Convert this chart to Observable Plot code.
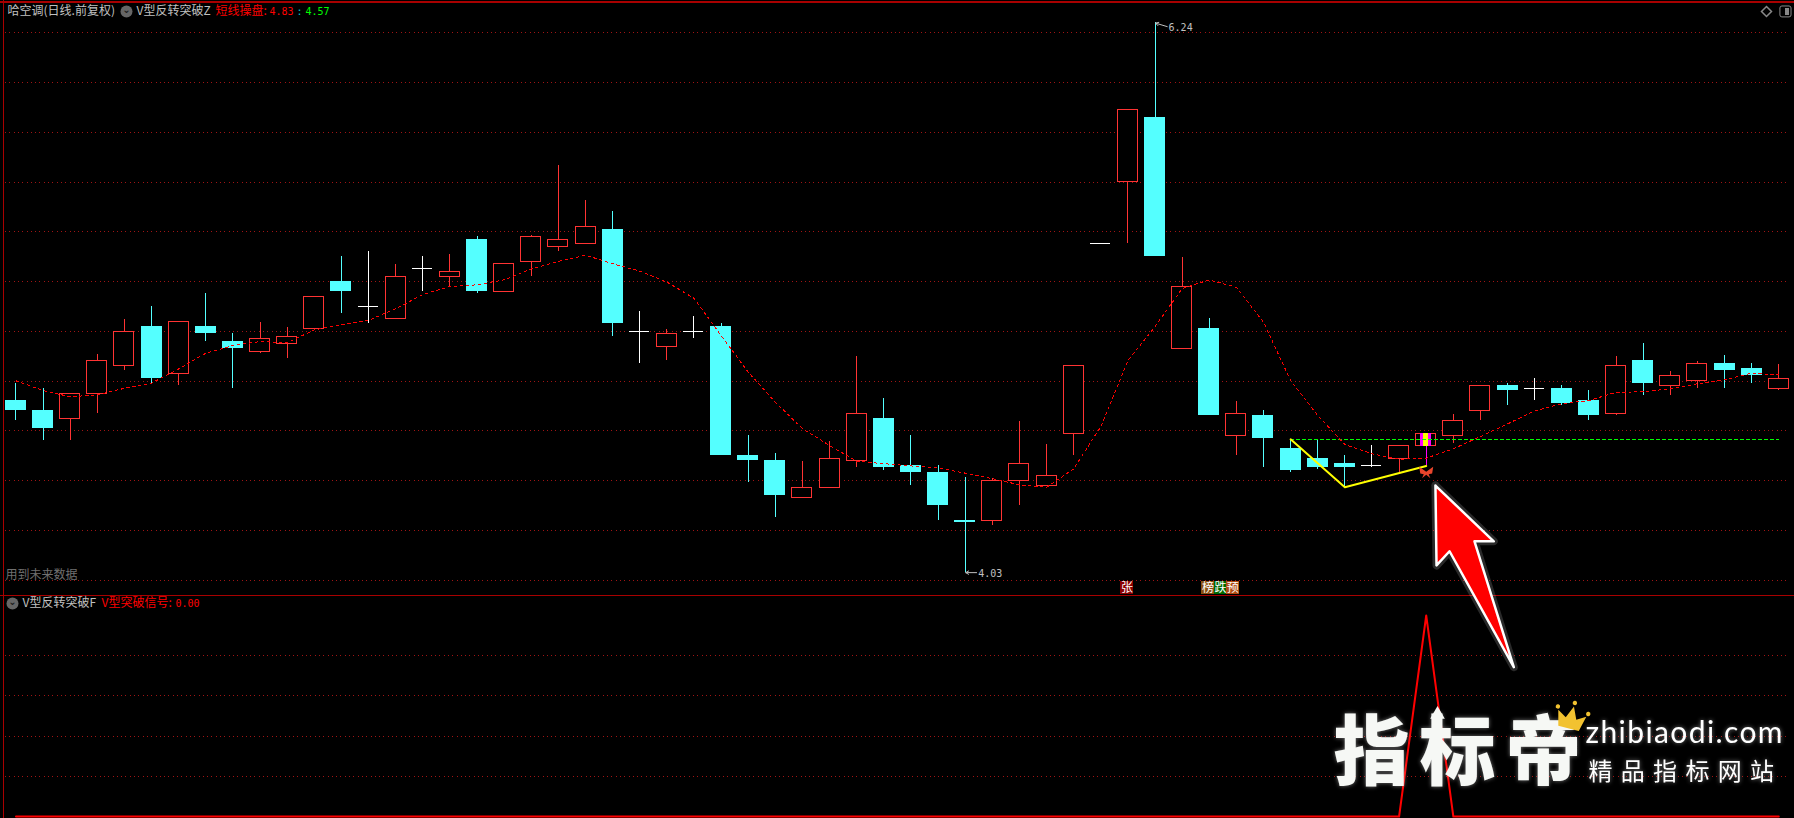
<!DOCTYPE html>
<html>
<head>
<meta charset="utf-8">
<script src="https://cdn.jsdelivr.net/npm/d3@7"></script>
<script src="https://cdn.jsdelivr.net/npm/@observablehq/plot@0.6"></script>
<style>
html,body{margin:0;padding:0;background:#000;overflow:hidden;width:1794px;height:818px}
#chart svg{display:block}
</style>
</head>
<body>
<div id="chart"></div>
<script>
// ---- Daily bars (price) ----
const opens  = [4.722,4.682,4.647,4.747,4.860,5.019,4.828,5.019,4.959,4.916,4.948,5.010,5.200,5.099,5.050,5.251,5.218,5.369,5.157,5.278,5.338,5.350,5.409,4.998,4.936,4.998,5.019,4.501,4.481,4.329,4.369,4.478,4.650,4.461,4.433,4.240,4.237,4.398,4.377,4.587,5.352,5.600,5.860,4.930,5.011,4.578,4.662,4.529,4.489,4.469,4.459,4.486,4.538,4.578,4.679,4.782,4.769,4.770,4.722,4.667,4.883,4.779,4.800,4.871,4.851,4.767];
const closes = [4.683,4.611,4.749,4.882,4.998,4.810,5.038,4.993,4.931,4.970,4.978,5.139,5.160,5.099,5.219,5.251,5.239,5.160,5.272,5.380,5.368,5.420,5.032,4.998,4.990,4.998,4.501,4.481,4.340,4.371,4.488,4.669,4.453,4.433,4.300,4.233,4.399,4.468,4.419,4.861,5.352,5.891,5.301,5.179,4.663,4.669,4.570,4.441,4.454,4.454,4.459,4.540,4.588,4.640,4.781,4.762,4.769,4.710,4.662,4.861,4.790,4.821,4.870,4.843,4.823,4.809];
const highs  = [4.790,4.770,4.749,4.907,5.048,5.100,5.038,5.152,4.991,5.036,5.014,5.139,5.301,5.321,5.269,5.301,5.309,5.381,5.272,5.385,5.667,5.526,5.482,5.080,5.007,5.060,5.032,4.581,4.509,4.477,4.557,4.899,4.730,4.581,4.461,4.412,4.408,4.638,4.545,4.861,5.352,5.891,6.240,5.297,5.052,4.718,4.682,4.566,4.565,4.501,4.541,4.540,4.588,4.666,4.781,4.790,4.810,4.782,4.762,4.899,4.951,4.839,4.879,4.903,4.871,4.867];
const lows   = [4.643,4.562,4.562,4.671,4.844,4.792,4.782,4.960,4.771,4.911,4.892,5.010,5.072,5.033,5.050,5.160,5.180,5.153,5.157,5.222,5.321,5.350,4.979,4.871,4.883,4.971,4.501,4.392,4.252,4.329,4.369,4.453,4.441,4.380,4.240,4.030,4.220,4.300,4.377,4.501,5.352,5.354,5.301,4.930,4.663,4.501,4.454,4.434,4.443,4.373,4.454,4.434,4.459,4.550,4.643,4.702,4.722,4.703,4.642,4.662,4.742,4.742,4.770,4.770,4.790,4.762];
// 短线操盘 average line
const shortLine = [4.801,4.762,4.737,4.745,4.771,4.792,4.849,4.912,4.943,4.959,4.954,5.006,5.026,5.044,5.091,5.148,5.180,5.187,5.207,5.251,5.281,5.306,5.272,5.242,5.198,5.133,4.983,4.836,4.715,4.609,4.541,4.478,4.468,4.459,4.451,4.430,4.408,4.383,4.373,4.447,4.617,4.883,5.019,5.172,5.207,5.177,5.037,4.802,4.662,4.545,4.508,4.486,4.490,4.528,4.577,4.628,4.680,4.709,4.722,4.755,4.757,4.769,4.789,4.805,4.832,4.825];
// V型突破信号 (lower panel)
const signal = [0,0,0,0,0,0,0,0,0,0,0,0,0,0,0,0,0,0,0,0,0,0,0,0,0,0,0,0,0,0,0,0,0,0,0,0,0,0,0,0,0,0,0,0,0,0,0,0,0,0,0,0,1,0,0,0,0,0,0,0,0,0,0,0,0,0];
// Grid ticks
const priceTicks = [6.2,6.0,5.8,5.6,5.4,5.2,5.0,4.8,4.6,4.4,4.2,4.0];
const signalTicks = [0.2,0.4,0.6,0.8];
// V pattern: bar index / price
const vBars = [47,49,52];
const vPrices = [4.566,4.373,4.459];
const breakoutBars = [47,65];
const breakoutPrices = [4.566,4.566];
const signalBar = 52;
// Big annotation arrow, in bar index / price
const arrowBars = [52.34,54.49,53.78,55.23,52.86,52.38,52.34];
const arrowPrices = [4.380,4.156,4.156,3.650,4.116,4.059,4.380];
// Tags under the bars
const tagTexts = ["张","榜","跌","预"];
const tagBars = [40.97,43.95,44.41,44.87];
const tagColors = ["#8b0000","#8b4f10","#006a00","#b04a10"];

const bars = opens.map((o,i)=>({i,o,c:closes[i],h:highs[i],l:lows[i],m:shortLine[i],s:signal[i]}));
const up = bars.filter(d=>d.c>d.o), down = bars.filter(d=>d.c<d.o), flat = bars.filter(d=>d.c===d.o);
const tags = tagTexts.map((t,k)=>({t,b:tagBars[k],f:tagColors[k]}));
const pts = (xs,ys)=>xs.map((x,k)=>({x,y:ys[k]}));

const W=1794, H1=595, H2=223;
const xDomain=[-0.5715,65.58];
const yDomain=[3.9381,6.33];
const sDomain=[-0.00995,1.0995];
const CJK='"Noto Sans CJK SC","Noto Sans",sans-serif', MONO='"DejaVu Sans Mono",monospace';
const GREY="#c0c0c0", RED="#ff3333", CYAN="#54ffff", BORDER="#a80000", DOT="#a01414";
const step=27.12, hwUp=10/step, hwDown=10.5/step, hwFlat=10/step;

const label=(text,x,y,fill,font=CJK,size=12,extra={})=>Plot.text([text],{frameAnchor:"top-left",dx:x,dy:y,lineAnchor:"middle",textAnchor:"start",fill,fontFamily:font,fontSize:size,...extra});
const icon=(x,y)=>[
  Plot.dot([0],{frameAnchor:"top-left",dx:x,dy:y,r:6,fill:"#666",stroke:"none"}),
  Plot.text(["⌄"],{frameAnchor:"top-left",dx:x,dy:y-2,lineAnchor:"middle",textAnchor:"middle",fill:"#1c1c1c",fontFamily:'"DejaVu Sans"',fontSize:10,fontWeight:"bold"})
];
const butterfly={draw(ctx,size){const s=Math.sqrt(size/Math.PI);
  for(const k of [-1,1]){ctx.moveTo(0,-0.1*s);ctx.lineTo(k*s,-0.8*s);ctx.lineTo(k*0.85*s,0.15*s);ctx.lineTo(k*0.35*s,0.25*s);ctx.lineTo(k*0.6*s,0.85*s);ctx.lineTo(0,0.35*s);ctx.closePath();}
}};
const crown={draw(ctx,size){const s=Math.sqrt(size/Math.PI);
  ctx.moveTo(-0.62*s,0.72*s);ctx.lineTo(-0.85*s,-0.2*s);ctx.lineTo(-0.32*s,0.12*s);ctx.lineTo(0,-0.6*s);ctx.lineTo(0.32*s,0.12*s);ctx.lineTo(0.85*s,-0.2*s);ctx.lineTo(0.62*s,0.72*s);ctx.closePath();
  for(const [x,y] of [[-0.92,-0.38],[0,-0.82],[0.92,-0.38]]){const r=0.13*s;ctx.moveTo(x*s+r,y*s);ctx.arc(x*s,y*s,r,0,2*Math.PI);}
}};
const crisp={shapeRendering:"crispEdges"};

const upperPanel=Plot.plot({
  width:W,height:H1,margin:0,
  style:{background:"#000",overflow:"visible",position:"relative",zIndex:2},
  x:{axis:null,domain:xDomain},
  y:{axis:null,domain:yDomain},
  marks:[
    Plot.ruleY(priceTicks,{stroke:DOT,strokeDasharray:"1,3.3",insetLeft:5,insetRight:4,...crisp}),
    Plot.ruleX([-0.4425],{stroke:BORDER,...crisp}),
    Plot.ruleY([6.324],{stroke:BORDER,strokeWidth:1.5,...crisp}),
    // wicks
    Plot.ruleX(up,{x:"i",y1:"l",y2:"h",stroke:RED,...crisp}),
    Plot.ruleX(down,{x:"i",y1:"l",y2:"h",stroke:CYAN,...crisp}),
    Plot.ruleX(flat,{x:"i",y1:"l",y2:"h",stroke:"#fff",...crisp}),
    // bodies
    Plot.rect(up,{x1:d=>d.i-hwUp,x2:d=>d.i+hwUp,y1:"o",y2:"c",fill:"#000",stroke:RED,...crisp}),
    Plot.rect(down,{x1:d=>d.i-hwDown,x2:d=>d.i+hwDown,y1:"o",y2:"c",fill:CYAN,...crisp}),
    Plot.ruleY(flat,{y:"c",x1:d=>d.i-hwFlat,x2:d=>d.i+hwFlat,stroke:"#fff",...crisp}),
    // breakout bar highlight
    Plot.rect(bars.filter(d=>d.i===signalBar),{x1:d=>d.i-5.5/step,x2:d=>d.i+5.5/step,y1:"o",y2:"c",fill:"#ff00ff",...crisp}),
    Plot.rect(bars.filter(d=>d.i===signalBar),{x1:d=>d.i-2.7/step,x2:d=>d.i+2.7/step,y1:"o",y2:"c",fill:"#ffff00",...crisp}),
    Plot.ruleX(bars.filter(d=>d.i===signalBar),{x:"i",y1:"l",y2:"o",stroke:"#ff00ff",...crisp}),
    // lines
    Plot.line(pts(breakoutBars,breakoutPrices),{x:"x",y:"y",stroke:"#00ff00",strokeDasharray:"3,3",...crisp}),
    Plot.line(bars,{x:"i",y:"m",stroke:"#ff0000",strokeWidth:1,strokeDasharray:"2.5,3.5",...crisp}),
    Plot.line(pts(vBars,vPrices),{x:"x",y:"y",stroke:"#ffff00",strokeWidth:2}),
    Plot.dot([{i:signalBar,p:4.433}],{x:"i",y:"p",r:7,symbol:butterfly,fill:"#e8452c",stroke:"none"}),
    // high / low markers
    Plot.arrow([{x1:42.45,y1:6.225,x2:42.02,y2:6.239}],{x1:"x1",y1:"y1",x2:"x2",y2:"y2",stroke:GREY,strokeWidth:1,headLength:5,bend:0}),
    Plot.text([{x:42.5,y:6.221,t:"6.24"}],{x:"x",y:"y",text:"t",textAnchor:"start",fill:GREY,fontFamily:MONO,fontSize:10}),
    Plot.arrow([{x1:35.42,y1:4.03,x2:35.02,y2:4.03}],{x1:"x1",y1:"y1",x2:"x2",y2:"y2",stroke:GREY,strokeWidth:1,headLength:5,bend:0}),
    Plot.text([{x:35.48,y:4.026,t:"4.03"}],{x:"x",y:"y",text:"t",textAnchor:"start",fill:GREY,fontFamily:MONO,fontSize:10}),
    // tags
    Plot.rect(tags,{x1:d=>d.b-6.3/step,x2:d=>d.b+6.3/step,y1:3.942,y2:3.994,fill:"f",...crisp}),
    Plot.text(tags,{x:"b",y:3.968,text:"t",fill:"#fff",fontFamily:CJK,fontSize:12}),
    // headers
    label("哈空调(日线.前复权)",7,11,GREY),
    ...icon(126,11),
    label("V型反转突破Z",136,11,GREY),
    label("短线操盘:",215,11,"#ff0000"),
    label("4.83",269,11,"#ff0000",MONO,10),
    label(":",296,11,"#00c8c8",MONO,10),
    label("4.57",305,11,"#00ff00",MONO,10),
    label("用到未来数据",5,575,"#707070"),
    // right corner icons
    Plot.dot([0],{frameAnchor:"top-left",dx:1766,dy:11,r:4.5,symbol:"diamond2",stroke:"#888",fill:"none"}),
    Plot.rect([0],{x1:65.06,x2:65.47,y1:6.262,y2:6.306,rx:2,fill:"none",stroke:"#888",strokeWidth:1}),
    Plot.rect([0],{x1:65.25,x2:65.38,y1:6.27,y2:6.298,fill:"#888",...crisp}),
    // annotation arrow
    Plot.line(pts(arrowBars,arrowPrices),{x:"x",y:"y",stroke:"#fff",strokeOpacity:0.16,strokeWidth:8,strokeLinejoin:"round"}),
    Plot.line(pts(arrowBars,arrowPrices),{x:"x",y:"y",fill:"#ff0000",stroke:"#fff",strokeWidth:2.5,strokeLinejoin:"round"})
  ]
});

const wy=y=>y-H1; // page y -> lower panel y
const lowerPanel=Plot.plot({
  width:W,height:H2,margin:0,
  style:{background:"#000",overflow:"visible",position:"relative",zIndex:1},
  x:{axis:null,domain:xDomain},
  y:{axis:null,domain:sDomain},
  marks:[
    Plot.ruleY(signalTicks,{stroke:DOT,strokeDasharray:"1,3.3",insetLeft:5,insetRight:4,...crisp}),
    Plot.ruleX([-0.4425],{stroke:BORDER,...crisp}),
    Plot.ruleY([1.0975],{stroke:BORDER,...crisp}),
    Plot.line(bars,{x:"i",y:"s",stroke:"#ff0000",strokeWidth:2}),
    ...icon(12,wy(603)),
    label("V型反转突破F",22,wy(603),GREY),
    label("V型突破信号:",101,wy(603),"#ff0000"),
    label("0.00",175,wy(603),"#ff0000",MONO,10),
    // watermark
    label("指标帝",1333,wy(754),"#f6f8f5",CJK,76,{fontWeight:900}),
    Plot.dot([0],{frameAnchor:"top-left",dx:1437,dy:wy(714),r:7,symbol:"triangle2",fill:"#f6f8f5",stroke:"none"}),
    Plot.dot([0],{frameAnchor:"top-left",dx:1571,dy:wy(716),r:17,symbol:crown,rotate:14,fill:"#f2c230",stroke:"none"}),
    label("zhibiaodi.com",1585,wy(733),"#fff",'"Lato"',30),
    label("精品指标网站",1588,wy(772),"#fff",CJK,24)
  ]
});
const spacing={"指标帝":"10px","精品指标网站":"8.3px","zhibiaodi.com":"1.4px"};
d3.select(lowerPanel).selectAll("text").each(function(){
  const s=spacing[this.textContent];
  if(s) d3.select(this).style("letter-spacing",s).style("filter","drop-shadow(0 0 2px rgba(255,255,255,.45))");
});
document.getElementById("chart").append(upperPanel,lowerPanel);
</script>
</body>
</html>
